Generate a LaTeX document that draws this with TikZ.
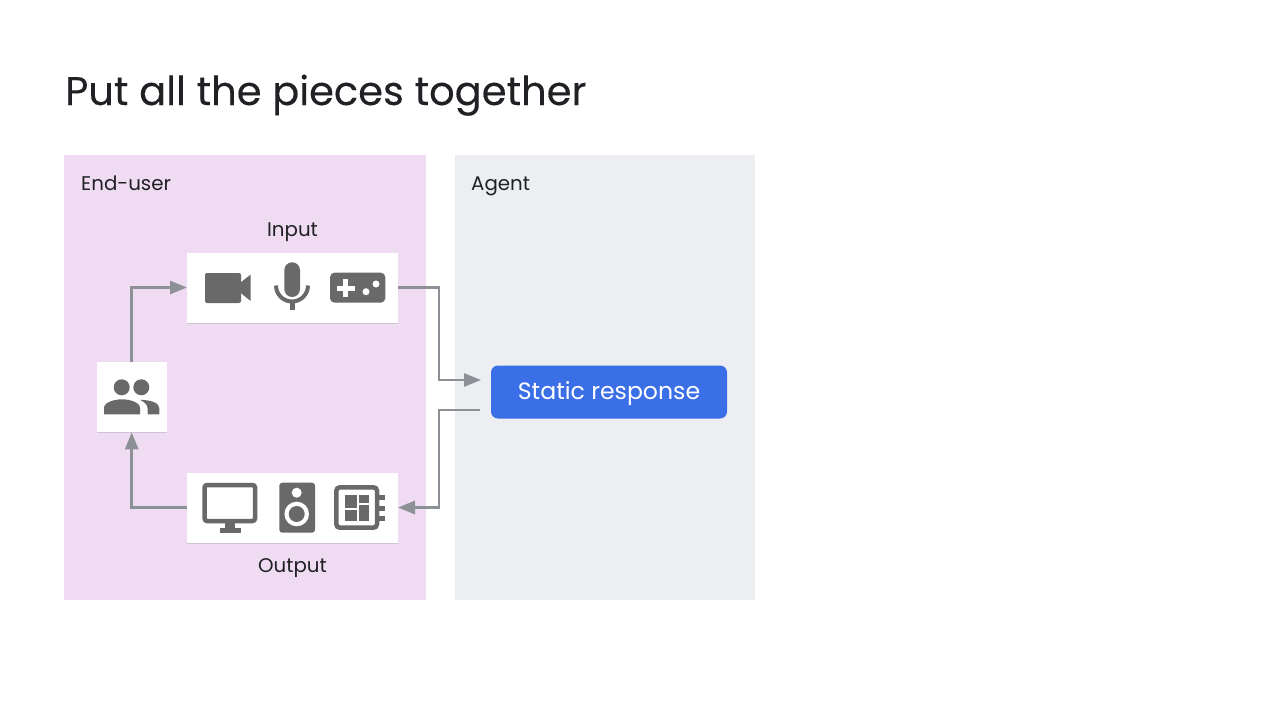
\documentclass[tikz,border=0pt]{standalone}
\usepackage{fontspec}
\setmainfont{Poppins}
\newfontfamily\titlefont[FakeBold=0.2]{Poppins}
\usetikzlibrary{arrows.meta,shadows}
\definecolor{panelpink}{HTML}{EFDCF2}
\definecolor{panelgrey}{HTML}{ECEEF2}
\definecolor{linegrey}{HTML}{8D9196}
\definecolor{icongrey}{HTML}{696969}
\definecolor{inkdark}{HTML}{202124}
\definecolor{staticblue}{HTML}{3B6FE8}
\tikzset{
  panel/.style={inner sep=0pt,outer sep=0pt},
  whitebox/.style={fill=white,inner sep=0pt,outer sep=0pt,drop shadow={shadow xshift=0pt,shadow yshift=-1pt,opacity=.12,fill=black}},
  label/.style={text=inkdark,inner sep=0pt,font=\fontsize{19.8}{24}\selectfont},
  conn/.style={draw=linegrey,line width=2.7pt,-{Triangle[length=17pt,width=13pt]}},
  icon/.style={fill=icongrey,draw=none},
}
\begin{document}
\begin{tikzpicture}[x=1pt,y=-1pt]
  \useasboundingbox[fill=white] (0,0) rectangle (1280,720);
  \node[text=inkdark,inner sep=0pt,anchor=base west,font=\titlefont\fontsize{40}{48}\selectfont] (title) at (65,105) {Put all the pieces together};
  \node[panel,fill=panelpink,minimum width=362pt,minimum height=445pt] (enduser) at (245,377.5) {};
  \node[panel,fill=panelgrey,minimum width=300pt,minimum height=445pt] (agent) at (605,377.5) {};
  \node[label,anchor=base west] (enduserlabel) at (81,190) {End-user};
  \node[label,anchor=base west] (agentlabel) at (471,190) {Agent};
  \node[whitebox,minimum width=211pt,minimum height=70pt] (inputbox) at (292.5,287.5) {};
  \node[whitebox,minimum width=211pt,minimum height=70pt] (outputbox) at (292.5,507.5) {};
  \node[whitebox,minimum width=70pt,minimum height=70pt] (users) at (131.7,397.3) {};
  \node[label,anchor=base] (inputlabel) at (292.5,236) {Input};
  \node[label,anchor=base] (outputlabel) at (292.5,572) {Output};
  \node[fill=staticblue,rounded corners=7pt,inner sep=0pt,outer sep=0pt,minimum width=236pt,minimum height=53pt] (static) at (609,392) {};
  \node[text=white,inner sep=0pt,anchor=base,font=\fontsize{23.6}{30}\selectfont] (statictext) at (609,399) {Static response};
  \coordinate (agentin) at (481,380);
  \coordinate (agentout) at (480,410);
  \draw[conn] (inputbox.east) -- ++(41,0) |- (agentin);
  \draw[conn] (agentout) -- ++(-41,0) |- (outputbox.east);
  \draw[conn] (users.north) |- (inputbox.west);
  \draw[conn] (outputbox.west) -| (users.south);
  % camera
  \fill[icon,rounded corners=2pt] (205,273) rectangle (241,303);
  \fill[icon] (240,283) -- (250.7,274.5) -- (250.7,301) -- (240,292.5) -- cycle;
  % mic
  \fill[icon,rounded corners=7.8pt] (284.3,262.3) rectangle (300,297);
  \draw[icongrey,line width=4pt] (276,285.5) arc[start angle=180,end angle=360,radius=16pt];
  \fill[icon] (289.8,300) rectangle (294.5,310);
  % gamepad
  \fill[icon,rounded corners=4.5pt] (330,272.7) rectangle (385.3,302.7);
  \fill[white] (336.7,286) rectangle (354.7,290.6);
  \fill[white] (343.4,279.3) rectangle (348,297.3);
  \fill[white] (376,284) circle[radius=3.5pt];
  \fill[white] (366,291.7) circle[radius=3.5pt];
  % monitor
  \draw[icongrey,line width=4.5pt,rounded corners=2.5pt] (204.6,485) rectangle (255,521);
  \fill[icon] (225,523) rectangle (235,529);
  \fill[icon] (220,528.3) rectangle (240.7,533);
  % speaker
  \fill[icon,rounded corners=3pt] (279.3,482.7) rectangle (315,532.7);
  \fill[white] (296.7,492.7) circle[radius=5pt];
  \fill[white] (296.7,514) circle[radius=12.3pt];
  \fill[icon] (296.7,514) circle[radius=8pt];
  % board
  \fill[icon] (378,495) rectangle (385,500);
  \fill[icon] (378,505.7) rectangle (385,510.7);
  \fill[icon] (378,515.7) rectangle (385,520.7);
  \draw[icongrey,line width=4.5pt,rounded corners=3.5pt] (336.3,487.3) rectangle (377,527.7);
  \fill[icon] (345,495) rectangle (356.7,507.7);
  \fill[icon] (359,495) rectangle (369,502.7);
  \fill[icon] (345,510) rectangle (356.7,520.7);
  \fill[icon] (359,505) rectangle (369,520.7);
  % people
  \fill[icon] (121.7,387.3) circle[radius=8pt];
  \fill[icon] (141.3,387.3) circle[radius=8pt];
  \fill[icon] (104,414.3) -- (104,408) .. controls (104,402) and (115,399.3) .. (122,399.3) .. controls (129,399.3) and (140,402) .. (140,408) -- (140,414.3) -- cycle;
  \fill[icon] (140,399.8) .. controls (150,400) and (159.3,402.5) .. (159.3,408) -- (159.3,414.3) -- (147.5,414.3) -- (147.5,408) .. controls (147.5,404.5) and (144,402) .. (140,399.8) -- cycle;
\end{tikzpicture}
\end{document}
